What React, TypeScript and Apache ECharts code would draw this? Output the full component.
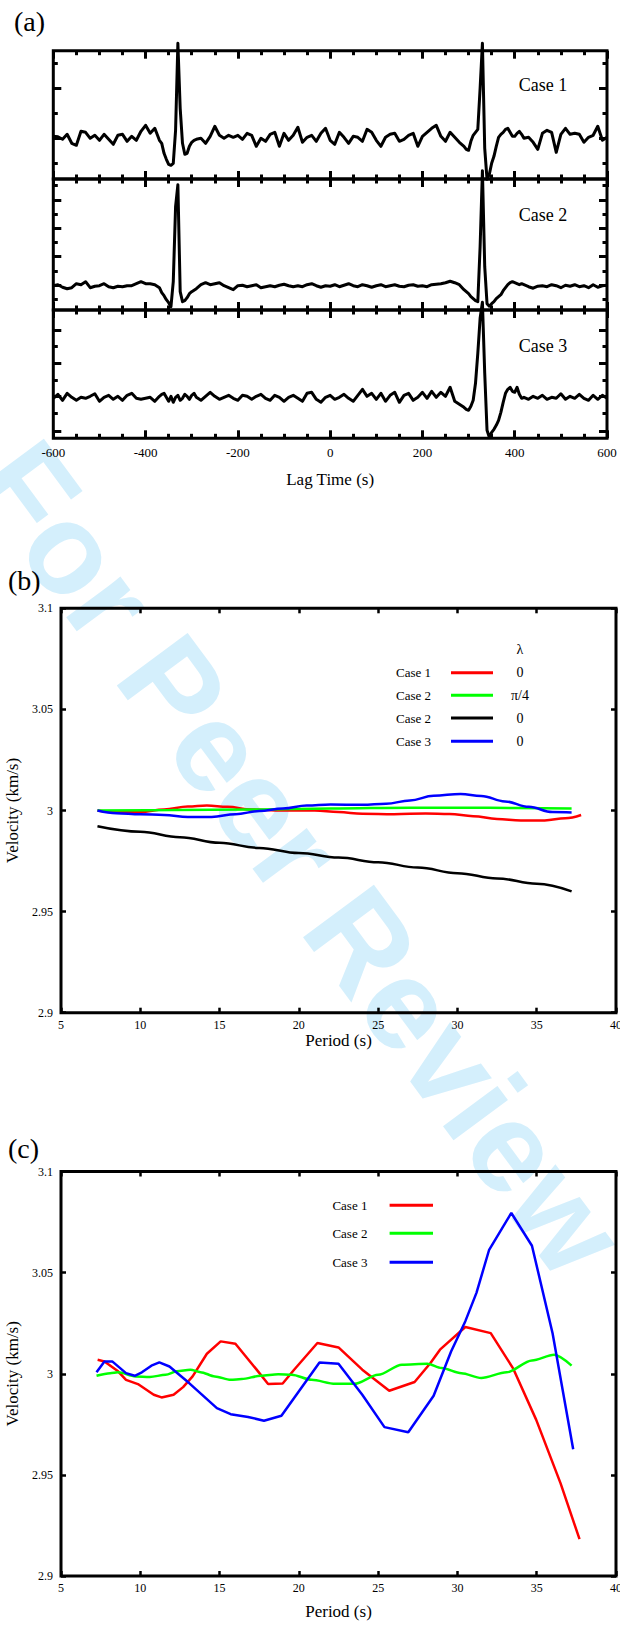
import React, { useEffect, useRef } from "react";
import * as echarts from "echarts";

const SERIF = "Liberation Serif, Times New Roman, Times, serif";
const SANS = "Liberation Sans, Arial, Helvetica, sans-serif";

// ---------------- Panel (a): cross-correlation traces ----------------
const lagTimes = [
  -600, -590, -580, -570, -560, -550, -540, -530, -520, -510, -500, -490, -480, -470, -460, -450, -440, -430, -420, -410, -400, -390, -380, -370,
  -365, -360, -355, -350, -345, -340, -335, -330, -325, -320, -315, -310, -305, -300, -295, -290,
  -280, -270, -260, -250, -240, -230, -220, -210, -200, -190,
  -180, -170, -160, -150, -140, -130, -120, -110, -100, -90,
  -80, -70, -60, -50, -40, -30, -20, -10, 0, 10,
  20, 30, 40, 50, 60, 70, 80, 90, 100, 110,
  120, 130, 140, 150, 160, 170, 180, 190, 200, 210,
  220, 230, 240, 250, 260, 270, 280, 290,
  295, 300, 305, 310, 315, 320, 325, 330, 335, 340, 345, 350, 355, 360, 365, 370, 375, 380, 385, 390, 395, 400, 405, 410, 415, 420,
  430, 440, 450, 460, 470, 480, 490, 500, 510, 520, 530, 540, 550, 560, 570, 580, 590, 600,
];

const case1Amp = [
  0.2, 0.15, -0.1, 0.4, -0.5, -0.7, 0.7, 0.6, 0.0, 0.3, -0.2, 0.4, -0.1, -0.6, 0.3, 0.4, -0.3, 0.2, -0.2, 0.7, 1.3, 0.5, 1.0, -0.2,
  -0.5, -1.5, -2.1, -2.6, -2.7, -2.5, 0.8, 9.5, 3.0, -0.5, -1.6, -1.5, -0.8, -0.4, -0.2, -0.1,
  0.0, -0.5, 0.2, 1.2, 0.3, 0.0, 0.3, 0.1, 0.3, -0.1,
  0.5, 0.3, -0.8, 0.0, -0.3, 0.4, 0.6, -0.8, 0.5, -0.2,
  0.3, 1.1, -0.4, 0.1, 0.3, -0.3, 0.5, 1.0, -0.2, -0.6,
  0.6, 0.1, -0.5, 0.2, 0.1, -0.3, 0.9, 0.6, -0.2, -0.8,
  0.1, 0.4, 0.5, -0.3, -0.1, 0.3, 0.5, -0.8, 0.2, 0.6,
  1.0, 1.3, 0.2, -0.3, 0.6, 0.1, -0.4, -0.8,
  -1.1, -1.2, -0.3, 0.3, 0.6, 0.9, 5.0, 9.5, -1.0, -4.1, -3.6, -2.5, -1.8, -0.8, 0.1, 0.4, 0.6, 0.9, 1.0, 0.6, 0.2, 0.2, 0.5, 0.7, 0.4, 0.0,
  0.1, -0.4, -1.1, 0.5, 0.8, 0.6, -1.4, 0.4, 1.0, 0.4, 0.5, 0.4, -0.4, 0.1, 0.3, 1.2, -0.2, 0.1,
];

const case2Amp = [
  0.1, 0.2, -0.05, -0.2, -0.1, 0.3, 0.2, 0.5, -0.1, 0.05, 0.1, 0.3, 0.0, -0.1, 0.05, 0.0, 0.1, 0.1, 0.3, 0.5, 0.3, 0.3, 0.2, -0.1,
  -0.6, -0.9, -1.3, -1.6, -2.0, 0.5, 8.0, 10.2, -0.5, -1.5, -1.4, -1.1, -0.7, -0.5, -0.35, -0.2,
  0.2, 0.4, 0.2, 0.3, 0.4, 0.1, -0.1, -0.3, 0.1, 0.15,
  0.0, 0.1, 0.2, -0.1, 0.0, 0.1, 0.0, 0.15, 0.25, 0.1,
  0.0, 0.1, 0.0, 0.2, 0.3, 0.1, -0.05, 0.1, 0.05, 0.2,
  0.0, 0.15, 0.3, 0.1, 0.0, 0.2, 0.1, -0.05, 0.1, 0.2,
  0.0, 0.1, 0.2, 0.05, 0.0, 0.15, 0.2, 0.05, 0.1, 0.0,
  0.2, 0.25, 0.3, 0.4, 0.55, 0.4, 0.2, -0.3,
  -0.5, -0.7, -1.0, -1.2, -1.4, -1.5, 4.0, 11.6, 2.0, -1.7, -1.95, -1.7, -1.5, -1.2, -1.0, -0.8, -0.4, -0.1, 0.2, 0.4, 0.5, 0.4, 0.3, 0.2, 0.3, 0.2,
  0.0, -0.15, 0.05, 0.1, 0.0, 0.2, 0.1, -0.1, 0.15, 0.05, 0.2, 0.0, 0.1, -0.1, 0.2, -0.05, 0.1, 0.15,
];

const case3Amp = [
  0.0, 0.4, -0.2, 0.5, 0.1, -0.2, 0.1, 0.0, 0.2, 0.45, -0.3, 0.1, 0.3, -0.1, 0.2, -0.2, 0.3, 0.5, 0.0, -0.1, 0.0, 0.1, -0.3, 0.2,
  0.4, 0.5, 0.1, -0.3, 0.2, -0.4, 0.1, 0.3, -0.2, 0.0, 0.4, 0.2, -0.1, 0.3, 0.5, 0.1,
  -0.2, 0.2, 0.6, 0.2, -0.1, 0.1, 0.3, 0.0, -0.2, 0.3,
  0.2, -0.1, 0.2, 0.4, 0.0, -0.2, 0.3, 0.1, -0.3, 0.1,
  0.3, 0.0, -0.3, 0.5, 0.6, -0.1, -0.4, 0.1, 0.3, -0.1,
  0.1, 0.4, 0.0, -0.3, 0.3, 0.9, 0.2, 0.5, -0.1, 0.5,
  -0.3, 0.3, 0.6, -0.4, 0.3, 0.5, -0.2, 0.1, 0.6, 0.0,
  0.7, 0.1, 0.6, 0.2, 1.1, -0.3, -0.6, -0.9,
  -1.1, -1.2, -0.8, -0.2, 1.5, 4.5, 8.0, 9.6, 2.5, -3.2, -3.9, -3.4, -3.1, -2.7, -2.2, -1.4, -0.4, 0.5, 0.9, 1.1, 0.7, 0.6, 1.1, 0.4, 0.0, 0.1,
  -0.1, 0.2, 0.0, 0.3, -0.1, 0.1, 0.0, 0.45, -0.1, 0.2, 0.0, 0.4, 0.0, -0.2, 0.3, -0.1, 0.3, 0.0,
];

const caseLabels = ["Case 1", "Case 2", "Case 3"];
// amplitude range of each sub-panel (arbitrary units)
const caseRanges = [
  [-4.07, 8.76],
  [-2.33, 10.77],
  [-4.0, 8.83],
];
const caseMajorTicks = [
  [0, 5],
  [0.17, 3.0, 5.84, 8.67],
  [-3.34, 0.17, 3.5, 6.83],
];
const caseMinorTicks = [
  [-2.5, 2.5, 7.5],
  [-1.23, 1.57, 4.42, 7.27, 10.1],
  [-1.5, 1.83, 5.16],
];

// ---------------- Panel (b) ----------------
const bCase1Period = [7.3, 8.5, 10, 11.5, 13, 14.2, 15.5, 17, 19, 21, 22.5, 24, 26, 28, 29.5, 31, 32.5, 34, 35.5, 36.8, 37.8];
const bCase1Vel = [3.0, 2.9992, 2.9993, 3.0005, 3.002, 3.0025, 3.0018, 3.0005, 3.0, 3.0, 2.9992, 2.9984, 2.9982, 2.9985, 2.9983, 2.9972, 2.9958, 2.995, 2.9951, 2.9962, 2.9978];
const bCase2PiPeriod = [7.3, 12, 17, 22, 27, 32, 37.2];
const bCase2PiVel = [3.0, 3.0002, 3.0005, 3.001, 3.0014, 3.0013, 3.001];
const bCase2ZeroPeriod = [7.3, 10, 12.5, 15, 17.5, 20, 22.5, 25, 27.5, 30, 32.5, 35, 37.2];
const bCase2ZeroVel = [2.9922, 2.9895, 2.9868, 2.984, 2.9815, 2.979, 2.9767, 2.9744, 2.9718, 2.969, 2.9664, 2.9638, 2.96];
const bCase3Period = [7.3, 8.5, 10, 11.5, 13, 14.5, 16, 17.5, 19, 20.5, 22, 24, 25.5, 27, 28.5, 30.2, 31.5, 33, 34.5, 36, 37.2];
const bCase3Vel = [3.0, 2.9987, 2.9982, 2.9978, 2.9968, 2.9968, 2.9982, 2.9997, 3.001, 3.0025, 3.003, 3.0028, 3.0033, 3.005, 3.0073, 3.0082, 3.0072, 3.0045, 3.0018, 2.9992, 2.999];
const bLegendCases = ["Case 1", "Case 2", "Case 2", "Case 3"];
const bLegendLambda = ["0", "π/4", "0", "0"];

// ---------------- Panel (c) ----------------
const cCase1Period = [7.31, 7.74, 8.6, 9.1, 9.85, 10.85, 11.34, 12.1, 12.7, 13.3, 14.2, 15.07, 16.0, 17.3, 18.06, 18.98, 19.7, 21.17, 22.5, 24.0, 25.7, 27.3, 28.3, 28.9, 30.5, 32.1, 33.5, 34.97, 36.5, 37.7];
const cCase1Vel = [3.0069, 3.0061, 3.0012, 2.997, 2.9949, 2.9896, 2.9883, 2.9896, 2.9934, 2.9987, 3.0099, 3.016, 3.0148, 3.0024, 2.9949, 2.9952, 3.002, 3.0152, 3.013, 3.002, 2.9916, 2.9959, 3.0053, 3.0119, 3.0231, 3.0201, 3.0028, 2.9772, 2.9459, 2.9182];
const cCase2Period = [7.24, 8.1, 8.6, 9.7, 10.6, 11.6, 12.3, 13.16, 13.8, 14.7, 15.7, 16.4, 17.6, 18.7, 19.55, 20.8, 22.3, 23.5, 25.0, 26.5, 28.1, 29.0, 30.25, 31.5, 33.1, 34.7, 36.1, 37.2];
const cCase2Vel = [2.999, 3.0003, 3.0007, 2.9987, 2.9984, 2.9995, 3.0012, 3.002, 3.0008, 2.9987, 2.997, 2.9974, 2.999, 2.9998, 2.9995, 2.997, 2.995, 2.995, 2.9995, 3.0045, 3.0049, 3.0028, 3.0003, 2.9979, 3.0007, 3.0066, 3.0094, 3.004];
const cCase3Period = [7.24, 7.74, 8.23, 9.1, 9.65, 10.1, 10.7, 11.2, 11.84, 13.08, 14.83, 15.7, 16.8, 17.8, 18.9, 21.3, 22.5, 24.0, 25.4, 26.9, 28.5, 29.6, 30.5, 31.2, 32.0, 33.4, 34.7, 36.0, 37.3];
const cCase3Vel = [3.0007, 3.0061, 3.0061, 3.0003, 2.999, 3.0007, 3.004, 3.0056, 3.0036, 2.9954, 2.983, 2.98, 2.9786, 2.9768, 2.9792, 3.0056, 3.0049, 2.9896, 2.9736, 2.9711, 2.9891, 3.011, 3.026, 3.04, 3.0613, 3.0795, 3.0633, 3.02, 2.9627];
const cLegendCases = ["Case 1", "Case 2", "Case 3"];

// watermark text and its letter advances (em, bold sans)
const watermarkLetters = ["F", "o", "r", " ", "P", "e", "e", "r", " ", "R", "e", "v", "i", "e", "w"];
const watermarkAdvance = [0.611, 0.611, 0.389, 0.278, 0.667, 0.556, 0.556, 0.389, 0.278, 0.722, 0.556, 0.556, 0.278, 0.556, 0.778];

const RED = "#ff0000";
const GREEN = "#00ff00";
const BLUE = "#0000ff";
const BLACK = "#000000";

const pairs = (xs: number[], ys: number[]) => xs.map((x, i) => [x, ys[i]]);

// ---------------- layout ----------------
const A_LEFT = 53.3;
const A_WIDTH = 553.7;
const A_GRIDS = [
  { top: 50.7, height: 128.3 },
  { top: 179, height: 131 },
  { top: 310, height: 128.3 },
];
const P_LEFT = 61;
const P_WIDTH = 555;
const B_GRID = { top: 608.3, height: 404.4 };
const C_GRID = { top: 1171.5, height: 404.5 };

const nameStyle = { fontFamily: SERIF, fontSize: 17, color: "#000" };

function aXAxis(gridIndex: number, position: string, labels: boolean) {
  const ax: any = {
    type: "value",
    gridIndex,
    position,
    min: -600,
    max: 600,
    interval: 200,
    axisLine: { show: false, onZero: false },
    axisTick: { show: true, inside: true, length: 8, lineStyle: { color: BLACK, width: 3 } },
    minorTick: { show: true, splitNumber: 4, length: 4.5, lineStyle: { color: BLACK, width: 3 } },
    splitLine: { show: false },
    minorSplitLine: { show: false },
    axisLabel: { show: labels, margin: 8, color: BLACK, fontFamily: SERIF, fontSize: 13 },
  };
  if (labels) {
    ax.name = "Lag Time (s)";
    ax.nameLocation = "middle";
    ax.nameGap = 33;
    ax.nameTextStyle = nameStyle;
  }
  return ax;
}

function aYAxis(gridIndex: number, position: string, range: number[], ticks: number[], len: number) {
  return {
    type: "value",
    gridIndex,
    position,
    min: range[0],
    max: range[1],
    axisLine: { show: false, onZero: false },
    axisTick: { show: true, inside: true, length: len, customValues: ticks, lineStyle: { color: BLACK, width: 3 } },
    axisLabel: { show: false, customValues: ticks },
    splitLine: { show: false },
  };
}

function pXAxis(gridIndex: number, position: string, labels: boolean, nameGap: number) {
  const ax: any = {
    type: "value",
    gridIndex,
    position,
    min: 5,
    max: 40,
    interval: 5,
    axisLine: { show: false, onZero: false },
    axisTick: { show: true, inside: true, length: 5, lineStyle: { color: BLACK, width: 2.5 } },
    splitLine: { show: false },
    axisLabel: { show: labels, margin: 6, color: BLACK, fontFamily: SERIF, fontSize: 12 },
  };
  if (labels) {
    ax.name = "Period (s)";
    ax.nameLocation = "middle";
    ax.nameGap = nameGap;
    ax.nameTextStyle = nameStyle;
  }
  return ax;
}

function pYAxis(gridIndex: number, position: string, labels: boolean) {
  const ax: any = {
    type: "value",
    gridIndex,
    position,
    min: 2.9,
    max: 3.1,
    interval: 0.05,
    axisLine: { show: false, onZero: false },
    axisTick: { show: true, inside: true, length: 5, lineStyle: { color: BLACK, width: 2.5 } },
    splitLine: { show: false },
    axisLabel: { show: labels, margin: 8, color: BLACK, fontFamily: SERIF, fontSize: 12 },
  };
  if (labels) {
    ax.name = "Velocity (km/s)";
    ax.nameLocation = "middle";
    ax.nameGap = 35;
    ax.nameTextStyle = nameStyle;
  }
  return ax;
}

function buildOption() {
  const grids: any[] = [];
  const xAxes: any[] = [];
  const yAxes: any[] = [];
  const series: any[] = [];
  const frame = { show: true, borderColor: BLACK, borderWidth: 3, backgroundColor: "transparent", outerBoundsMode: "none", containLabel: false };

  const caseAmps = [case1Amp, case2Amp, case3Amp];
  A_GRIDS.forEach((g, k) => {
    grids.push({ left: A_LEFT, width: A_WIDTH, top: g.top, height: g.height, ...frame });
    xAxes.push(aXAxis(k, "bottom", k === 2));
    xAxes.push(aXAxis(k, "top", false));
    yAxes.push(aYAxis(k, "left", caseRanges[k], caseMajorTicks[k], 8));
    yAxes.push(aYAxis(k, "left", caseRanges[k], caseMinorTicks[k], 4.5));
    yAxes.push(aYAxis(k, "right", caseRanges[k], caseMajorTicks[k], 8));
    yAxes.push(aYAxis(k, "right", caseRanges[k], caseMinorTicks[k], 4.5));
    series.push({
      type: "line",
      name: caseLabels[k],
      xAxisIndex: 2 * k,
      yAxisIndex: 4 * k,
      data: pairs(lagTimes, caseAmps[k]),
      symbol: "none",
      showSymbol: false,
      clip: false,
      silent: true,
      z: 3,
      lineStyle: { color: BLACK, width: 3, join: "round" },
    });
  });

  // panel (b) grid index 3
  grids.push({ left: P_LEFT, width: P_WIDTH, top: B_GRID.top, height: B_GRID.height, ...frame });
  xAxes.push(pXAxis(3, "bottom", true, 12));
  xAxes.push(pXAxis(3, "top", false, 0));
  yAxes.push(pYAxis(3, "left", true));
  yAxes.push(pYAxis(3, "right", false));
  const bSeries = [
    { name: "Case 1 λ=0", x: bCase1Period, y: bCase1Vel, color: RED },
    { name: "Case 2 λ=π/4", x: bCase2PiPeriod, y: bCase2PiVel, color: GREEN },
    { name: "Case 2 λ=0", x: bCase2ZeroPeriod, y: bCase2ZeroVel, color: BLACK },
    { name: "Case 3 λ=0", x: bCase3Period, y: bCase3Vel, color: BLUE },
  ];
  bSeries.forEach((s) => {
    series.push({
      type: "line",
      name: s.name,
      xAxisIndex: 6,
      yAxisIndex: 12,
      data: pairs(s.x, s.y),
      symbol: "none",
      showSymbol: false,
      smooth: 0.4,
      smoothMonotone: "x",
      silent: true,
      z: 3,
      lineStyle: { color: s.color, width: 2.5 },
    });
  });

  // panel (c) grid index 4
  grids.push({ left: P_LEFT, width: P_WIDTH, top: C_GRID.top, height: C_GRID.height, ...frame });
  xAxes.push(pXAxis(4, "bottom", true, 27));
  xAxes.push(pXAxis(4, "top", false, 0));
  yAxes.push(pYAxis(4, "left", true));
  yAxes.push(pYAxis(4, "right", false));
  const cSeries = [
    { name: "Case 1", x: cCase1Period, y: cCase1Vel, color: RED, smooth: false },
    { name: "Case 2", x: cCase2Period, y: cCase2Vel, color: GREEN, smooth: 0.3 },
    { name: "Case 3", x: cCase3Period, y: cCase3Vel, color: BLUE, smooth: false },
  ];
  cSeries.forEach((s) => {
    series.push({
      type: "line",
      name: s.name,
      xAxisIndex: 8,
      yAxisIndex: 14,
      data: pairs(s.x, s.y),
      symbol: "none",
      showSymbol: false,
      smooth: s.smooth,
      smoothMonotone: "x",
      silent: true,
      z: 3,
      lineStyle: { color: s.color, width: 2.5 },
    });
  });

  // ---------------- graphics ----------------
  const graphic: any[] = [];

  // watermark, letter by letter along a diagonal
  const wmSize = 128;
  const wmAngle = (53.5 * Math.PI) / 180;
  const dirX = Math.cos(wmAngle);
  const dirY = Math.sin(wmAngle);
  const wmTotal = watermarkAdvance.reduce((a, b) => a + b, 0) * wmSize;
  const wmCenter = [300, 858];
  let along = -wmTotal / 2;
  watermarkLetters.forEach((ch, i) => {
    if (ch !== " ") {
      graphic.push({
        type: "text",
        x: wmCenter[0] + along * dirX,
        y: wmCenter[1] + along * dirY,
        rotation: -wmAngle,
        silent: true,
        z: -1,
        style: {
          text: ch,
          fontFamily: SANS,
          fontWeight: "bold",
          fontSize: wmSize,
          fill: "#d4effc",
          align: "left",
          verticalAlign: "middle",
        },
      });
    }
    along += watermarkAdvance[i] * wmSize;
  });

  const txt = (text: string, x: number, y: number, size: number, align = "left") => ({
    type: "text",
    x,
    y,
    silent: true,
    z: 50,
    style: { text, fontFamily: SERIF, fontSize: size, fill: BLACK, align, verticalAlign: "middle" },
  });
  graphic.push(txt("(a)", 14, 21.7, 28));
  graphic.push(txt("(b)", 8, 580, 28));
  graphic.push(txt("(c)", 8, 1148, 28));
  const caseLabelY = [84.5, 214.5, 345.6];
  caseLabels.forEach((c, i) => graphic.push(txt(c, 543, caseLabelY[i], 18, "center")));

  // legend (b)
  const bColors = [RED, GREEN, BLACK, BLUE];
  const bRows = [672.7, 695.3, 718, 741.3];
  graphic.push(txt("λ", 520, 649.3, 14, "center"));
  bLegendCases.forEach((c, i) => {
    graphic.push(txt(c, 396, bRows[i], 13));
    graphic.push({
      type: "line",
      silent: true,
      z: 50,
      shape: { x1: 451, y1: bRows[i], x2: 493, y2: bRows[i] },
      style: { stroke: bColors[i], lineWidth: 3 },
    });
    graphic.push(txt(bLegendLambda[i], 520, bRows[i], 14, "center"));
  });

  // legend (c)
  const cColors = [RED, GREEN, BLUE];
  const cRows = [1205.3, 1233.3, 1262.3];
  cLegendCases.forEach((c, i) => {
    graphic.push(txt(c, 332.4, cRows[i], 13));
    graphic.push({
      type: "line",
      silent: true,
      z: 50,
      shape: { x1: 389.6, y1: cRows[i], x2: 433, y2: cRows[i] },
      style: { stroke: cColors[i], lineWidth: 3 },
    });
  });

  return {
    animation: false,
    backgroundColor: "#ffffff",
    grid: grids,
    xAxis: xAxes,
    yAxis: yAxes,
    series,
    graphic,
  };
}

export default function App() {
  const ref = useRef<HTMLDivElement>(null);
  useEffect(() => {
    document.body.style.margin = "0";
    const chart = echarts.init(ref.current as HTMLDivElement, null, { renderer: "svg", width: 620, height: 1625 });
    chart.setOption(buildOption() as any);
    return () => {
      chart.dispose();
    };
  }, []);
  return (
    <div
      ref={ref}
      style={{ position: "absolute", left: 0, top: 0, width: 620, height: 1625, background: "#fff" }}
    />
  );
}
